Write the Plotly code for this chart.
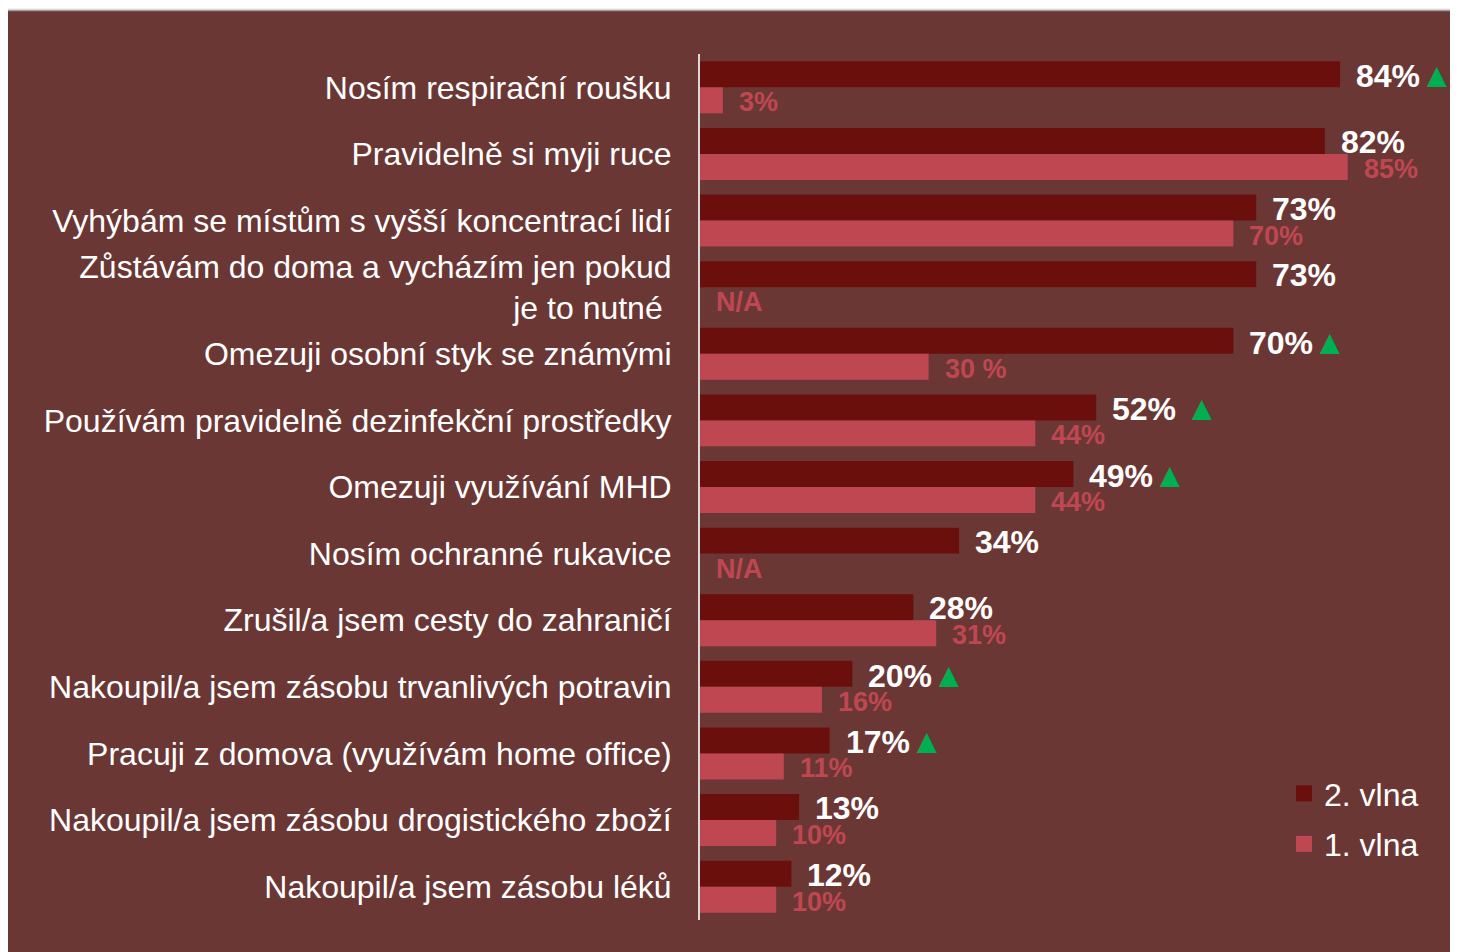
import plotly.graph_objects as go

categories = [
    "Nosím respirační roušku",
    "Pravidelně si myji ruce",
    "Vyhýbám se místům s vyšší koncentrací lidí",
    "Zůstávám do doma a vycházím jen pokud<br>je to nutné ",
    "Omezuji osobní styk se známými",
    "Používám pravidelně dezinfekční prostředky",
    "Omezuji využívání MHD",
    "Nosím ochranné rukavice",
    "Zrušil/a jsem cesty do zahraničí",
    "Nakoupil/a jsem zásobu trvanlivých potravin",
    "Pracuji z domova (využívám home office)",
    "Nakoupil/a jsem zásobu drogistického zboží",
    "Nakoupil/a jsem zásobu léků",
]
wave2 = [84, 82, 73, 73, 70, 52, 49, 34, 28, 20, 17, 13, 12]
wave1 = [3, 85, 70, None, 30, 44, 44, None, 31, 16, 11, 10, 10]
wave2_labels = ["84%", "82%", "73%", "73%", "70%", "52%", "49%", "34%", "28%", "20%", "17%", "13%", "12%"]
wave1_labels = ["3%", "85%", "70%", "N/A", "30 %", "44%", "44%", "N/A", "31%", "16%", "11%", "10%", "10%"]
increase = [True, False, False, False, True, True, True, False, False, True, True, False, False]
arrow_gap = ["", "", "", "", "", " ", "", "", "", "", "", "", ""]

DARK = "#6b0f0c"
LIGHT = "#bf4751"
GREEN = "#00b050"
BG = "#6b3735"
FONT = "Liberation Sans, Arial, sans-serif"

# figure is placed by the page at (8, 8)
W, H = 1458, 944
ML, MR, MT, MB = 692, 8, 46, 32
PW, PH = W - ML - MR, H - MT - MB
PX_PER_PCT = 7.62

fig = go.Figure()
fig.add_trace(go.Bar(y=categories, x=wave2, orientation="h", name="2. vlna",
                     marker=dict(color=DARK, line=dict(width=0)), showlegend=False))
fig.add_trace(go.Bar(y=categories, x=wave1, orientation="h", name="1. vlna",
                     marker=dict(color=LIGHT, line=dict(width=0)), showlegend=False))
# legend entries with larger square symbols
fig.add_trace(go.Scatter(x=[None], y=[None], mode="markers", name="2. vlna", legendgroup="a",
                         marker=dict(symbol="square", size=16, color=DARK)))
fig.add_trace(go.Scatter(x=[None], y=[None], mode="markers", name="1. vlna", legendgroup="b",
                         marker=dict(symbol="square", size=16, color=LIGHT)))

annotations = []
for i, c in enumerate(categories):
    txt = wave2_labels[i]
    if increase[i]:
        txt += arrow_gap[i] + f"<span style='color:{GREEN};font-size:34px'>▲</span>"
    annotations.append(dict(x=wave2[i], y=c, xref="x", yref="y", text=txt, showarrow=False,
                            xanchor="left", yanchor="middle", xshift=14, yshift=12,
                            font=dict(family=FONT, size=32, color="white", weight="bold")))
    annotations.append(dict(x=wave1[i] if wave1[i] is not None else 0, y=c, xref="x", yref="y",
                            text=wave1_labels[i], showarrow=False,
                            xanchor="left", yanchor="middle", xshift=14, yshift=-15,
                            font=dict(family=FONT, size=27, color=LIGHT, weight="bold")))

def px_x(p):
    return (p - ML) / PW

def px_y(p):
    return (H - MB - p) / PH

shapes = [
    dict(type="rect", xref="paper", yref="paper", x0=px_x(-10), x1=px_x(W + 10), y0=px_y(2), y1=px_y(-10),
         fillcolor="#f0f0f0", line=dict(width=0), layer="below"),
    dict(type="line", xref="paper", yref="paper", x0=px_x(0), x1=px_x(W), y0=px_y(2.5), y1=px_y(2.5),
         line=dict(color="#a09a98", width=1.5), layer="below"),
]

fig.update_layout(
    width=W, height=H,
    margin=dict(l=ML, r=MR, t=MT, b=MB),
    paper_bgcolor=BG,
    plot_bgcolor="rgba(0,0,0,0)",
    barmode="group", bargap=0.22, bargroupgap=0,
    font=dict(family=FONT, color="white"),
    xaxis=dict(range=[0, PW / PX_PER_PCT], showgrid=False, zeroline=False, showticklabels=False,
               showline=False, fixedrange=True),
    yaxis=dict(autorange="reversed", showgrid=False, zeroline=False, showline=True,
               linecolor="#d9d9d9", linewidth=2, ticks="", ticklabelstandoff=20,
               tickfont=dict(family=FONT, size=32, color="white")),
    legend=dict(x=px_x(1276), y=px_y(758), xanchor="left", yanchor="top",
                font=dict(family=FONT, size=32, color="white"), bgcolor="rgba(0,0,0,0)",
                traceorder="grouped", tracegroupgap=6, itemwidth=30),
    annotations=annotations,
    shapes=shapes,
)

fig.write_html("out.html")
